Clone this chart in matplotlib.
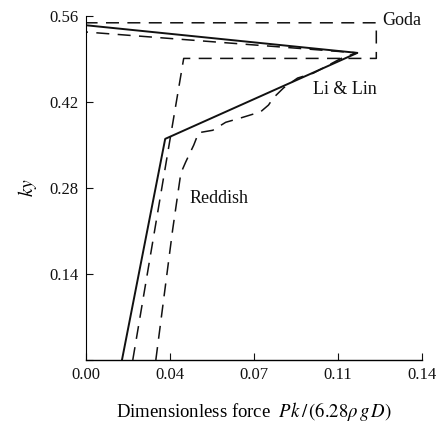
import matplotlib.pyplot as plt

# Li & Lin (solid)
lilin_x = [0.0150, 0.0330, 0.1130, 0.0]
lilin_y = [0.0, 0.360, 0.500, 0.545]

# Goda (dashed)
goda_x = [0.0195, 0.0407, 0.1209, 0.1209, 0.0]
goda_y = [0.0, 0.491, 0.491, 0.549, 0.549]

# Reddish (dashed)
reddish_x = [0.0291, 0.0361, 0.0395, 0.0415, 0.0449, 0.0469, 0.0528, 0.0582,
             0.0644, 0.0727, 0.0760, 0.0781, 0.0823, 0.0881, 0.0947, 0.1072,
             0.1130, 0.0]
reddish_y = [0.0, 0.212, 0.304, 0.322, 0.350, 0.370, 0.374, 0.387,
             0.394, 0.404, 0.415, 0.427, 0.443, 0.459, 0.467, 0.493,
             0.500, 0.534]

xticks = [0.0, 0.035, 0.07, 0.105, 0.14]
xtick_labels = ["0.00", "0.04", "0.07", "0.11", "0.14"]
yticks = [0.0, 0.14, 0.28, 0.42, 0.56]
ytick_labels = ["", "0.14", "0.28", "0.42", "0.56"]

plt.rcParams['font.family'] = ['Liberation Serif', 'DejaVu Serif']
plt.rcParams['mathtext.fontset'] = 'stix'

fig = plt.figure(figsize=(4.43, 4.22), dpi=100)
ax = fig.add_axes([0.194, 0.147, 0.759, 0.815])

crna = "#111111"
ax.plot(lilin_x, lilin_y, color=crna, lw=1.4)
ax.plot(goda_x, goda_y, color=crna, lw=1.1, dashes=(8.5, 5.5))
ax.plot(reddish_x, reddish_y, color=crna, lw=1.1, dashes=(8.5, 5.5))

ax.set_xlim(0, 0.14)
ax.set_ylim(0, 0.56)
ax.set_xticks(xticks)
ax.set_xticklabels(xtick_labels)
ax.set_yticks(yticks)
ax.set_yticklabels(ytick_labels)
ax.tick_params(direction='in', length=5, width=0.8, labelsize=12,
               colors=crna, pad=5)

for s in ['top', 'right']:
    ax.spines[s].set_visible(False)
ax.spines['left'].set_linewidth(0.8)
ax.spines['bottom'].set_linewidth(1.0)

# oznake krivulj
ax.text(0.1235, 0.553, "Goda", fontsize=13, ha='left', va='center', color=crna)
ax.text(0.0945, 0.441, "Li & Lin", fontsize=13, ha='left', va='center', color=crna)
ax.text(0.0430, 0.263, "Reddish", fontsize=13, ha='left', va='center', color=crna)

ax.set_ylabel("$ky$", fontsize=14, labelpad=8)
ax.set_xlabel("Dimensionless force  $Pk\\,/\\,(6.28\\rho\\, g\\, D)$",
              fontsize=13.5, labelpad=12)

fig.savefig("out.png", dpi=100)
